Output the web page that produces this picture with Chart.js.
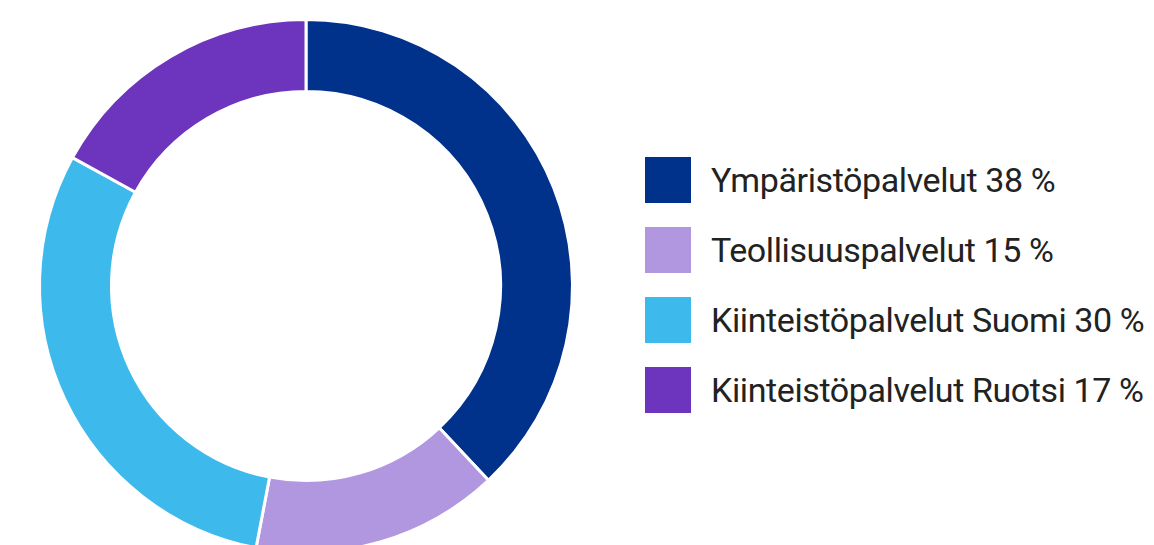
<!DOCTYPE html>
<html>
<head>
<meta charset="utf-8">
<script src="https://cdn.jsdelivr.net/npm/chart.js@4"></script>
<style>
  html, body { margin: 0; padding: 0; background: #fff; overflow: hidden; }
  #wrap { position: relative; width: 1154px; height: 545px; overflow: hidden; }
  #chartBox { position: absolute; left: 0; top: 0; width: 612px; height: 580px; }
  #legend { position: absolute; left: 645px; top: 157px; font-family: Roboto, "Noto Sans", sans-serif; color: #222; }
  .item { display: flex; align-items: center; height: 46px; margin-bottom: 24px; }
  .box { width: 46px; height: 46px; margin-right: 20px; flex: none; }
  .lbl { font-size: 34px; letter-spacing: -0.4px; white-space: nowrap; }
</style>
</head>
<body>
<div id="wrap">
  <div id="chartBox"><canvas id="donut"></canvas></div>
  <div id="legend"></div>
</div>
<script>
var labels = ["Ympäristöpalvelut", "Teollisuuspalvelut", "Kiinteistöpalvelut Suomi", "Kiinteistöpalvelut Ruotsi"];
var values = [38, 15, 30, 17];
var colors = ["#00318b", "#b197e0", "#3db9eb", "#6d35bd"];

var ctx = document.getElementById("donut").getContext("2d");
var chart = new Chart(ctx, {
  type: "doughnut",
  data: {
    labels: labels,
    datasets: [
      {
        data: values,
        backgroundColor: colors,
        borderColor: "#ffffff",
        borderWidth: 3,
      },
    ],
  },
  options: {
    responsive: true,
    maintainAspectRatio: false,
    animation: false,
    cutout: "73%",
    layout: { padding: { top: 18, bottom: 26, left: 38, right: 38 } },
    plugins: {
      legend: { display: false },
      tooltip: { enabled: false },
    },
  },
});

var legend = document.getElementById("legend");
labels.forEach(function (name, i) {
  var row = document.createElement("div");
  row.className = "item";
  var box = document.createElement("div");
  box.className = "box";
  box.style.background = colors[i];
  var txt = document.createElement("span");
  txt.className = "lbl";
  txt.textContent = name + " " + values[i] + " %";
  row.appendChild(box);
  row.appendChild(txt);
  legend.appendChild(row);
});
</script>
</body>
</html>
